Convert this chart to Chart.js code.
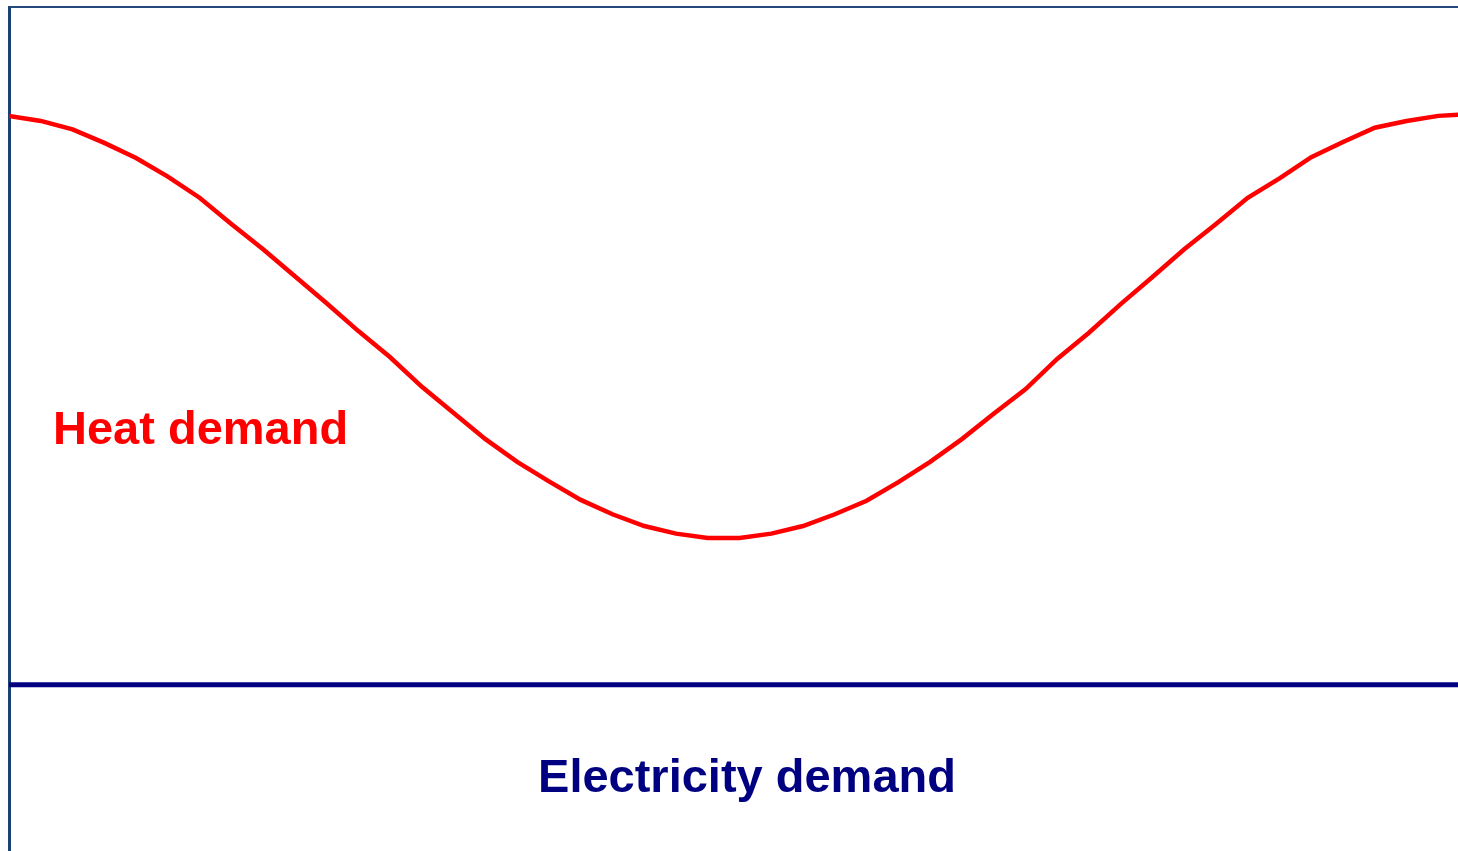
<!DOCTYPE html>
<html>
<head>
<meta charset="utf-8">
<script src="https://cdn.jsdelivr.net/npm/chart.js@4/dist/chart.umd.min.js"></script>
<style>
  html, body { margin: 0; padding: 0; background: #fff; overflow: hidden; }
  #wrap { position: relative; width: 1458px; height: 851px; }
</style>
</head>
<body>
<div id="wrap"><canvas id="demandChart"></canvas></div>
<script>
const steps = [0, 1, 2, 3, 4, 5, 6, 7, 8, 9, 10, 11, 12, 13, 14, 15, 16, 17, 18, 19, 20, 21, 22, 23,
  24, 25, 26, 27, 28, 29, 30, 31, 32, 33, 34, 35, 36, 37, 38, 39, 40, 41, 42, 43, 44, 45, 46];

const heatDemand = [87.1, 86.5, 85.5, 83.9, 82.1, 79.9, 77.4, 74.3, 71.3, 68.1, 64.9, 61.6,
  58.5, 55.0, 51.9, 48.8, 46.1, 43.8, 41.6, 39.9, 38.5, 37.6, 37.1, 37.1,
  37.6, 38.5, 39.9, 41.5, 43.7, 46.1, 48.8, 51.8, 54.7, 58.3, 61.4, 64.8,
  68.0, 71.3, 74.3, 77.4, 79.7, 82.2, 84.0, 85.7, 86.5, 87.1, 87.3];

const electricityDemand = [19.7, 19.7, 19.7, 19.7, 19.7, 19.7, 19.7, 19.7, 19.7, 19.7, 19.7, 19.7,
  19.7, 19.7, 19.7, 19.7, 19.7, 19.7, 19.7, 19.7, 19.7, 19.7, 19.7, 19.7,
  19.7, 19.7, 19.7, 19.7, 19.7, 19.7, 19.7, 19.7, 19.7, 19.7, 19.7, 19.7,
  19.7, 19.7, 19.7, 19.7, 19.7, 19.7, 19.7, 19.7, 19.7, 19.7, 19.7];

const seriesLabels = ['Heat demand', 'Electricity demand'];

// frame line on top + the two text labels
const framePlugin = {
  id: 'frame',
  afterDraw(chart) {
    const { ctx, chartArea } = chart;
    ctx.save();
    ctx.strokeStyle = '#24497a';
    ctx.lineWidth = 2;
    ctx.beginPath();
    ctx.moveTo(chartArea.left, chartArea.top);
    ctx.lineTo(chartArea.right, chartArea.top);
    ctx.stroke();

    ctx.font = 'bold 47px "Liberation Sans", Arial, sans-serif';
    ctx.textBaseline = 'alphabetic';
    ctx.textAlign = 'left';
    ctx.fillStyle = '#ff0000';
    ctx.fillText(seriesLabels[0], 53, 444);
    ctx.textAlign = 'center';
    ctx.fillStyle = '#000080';
    ctx.fillText(seriesLabels[1], 747, 792);
    ctx.restore();
  }
};

new Chart('demandChart', {
  type: 'line',
  data: {
    datasets: [{
      label: seriesLabels[0],
      data: steps.map((s, i) => ({ x: s, y: heatDemand[i] })),
      borderColor: '#ff0000',
      borderWidth: 4.5,
      pointRadius: 0,
      tension: 0
    }, {
      label: seriesLabels[1],
      data: steps.map((s, i) => ({ x: s, y: electricityDemand[i] })),
      borderColor: '#000080',
      borderWidth: 5,
      pointRadius: 0,
      tension: 0
    }]
  },
  options: {
    responsive: true,
    maintainAspectRatio: false,
    animation: false,
    layout: { padding: { left: 9, top: 7, right: 0, bottom: 0 } },
    plugins: {
      legend: { display: false },
      tooltip: { enabled: false }
    },
    scales: {
      x: {
        type: 'linear',
        min: 0,
        max: 45.62,
        display: false
      },
      y: {
        min: 0,
        max: 100,
        ticks: { display: false },
        grid: { display: false, drawTicks: false },
        border: { display: true, color: '#1a4274', width: 3 }
      }
    }
  },
  plugins: [framePlugin]
});
</script>
</body>
</html>
